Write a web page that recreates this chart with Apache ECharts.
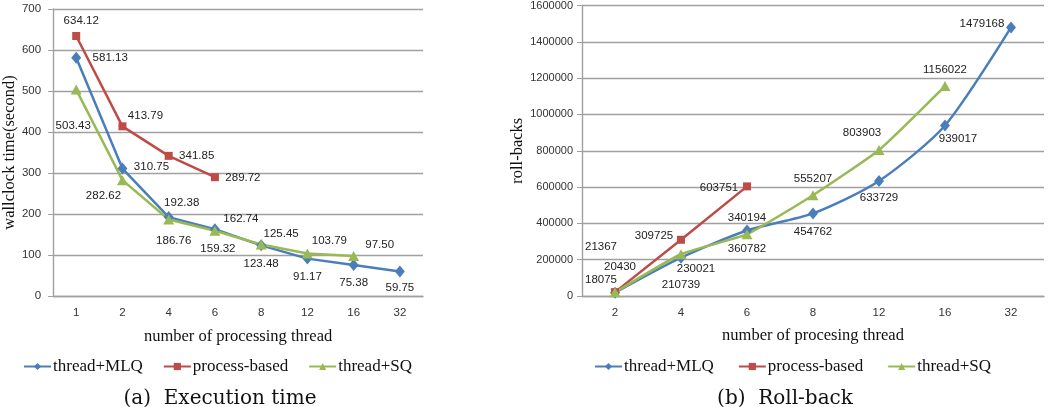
<!DOCTYPE html>
<html><head><meta charset="utf-8">
<script src="https://cdn.jsdelivr.net/npm/echarts@6/dist/echarts.min.js"></script>
<style>html,body{margin:0;padding:0;background:#fff}#c{width:1050px;height:407px}</style>
</head><body><div id="c"></div>
<script>
// ---- data: (a) execution time ----
const catsA = ['1','2','4','6','8','12','16','32'];
const mlqA = [581.13, 310.75, 192.38, 162.74, 123.48, 91.17, 75.38, 59.75];
const procA = [634.12, 413.79, 341.85, 289.72];
const sqA = [503.43, 282.62, 186.76, 159.32, 125.45, 103.79, 97.50];
// ---- data: (b) roll-back ----
const catsB = ['2','4','6','8','12','16','32'];
const mlqB = [18075, 210739, 360782, 454762, 633729, 939017, 1479168];
const procB = [21367, 309725, 603751];
const sqB = [20430, 230021, 340194, 555207, 803903, 1156022];
const ticksA = [0,100,200,300,400,500,600,700];
const ticksB = [0,200000,400000,600000,800000,1000000,1200000,1400000,1600000];

// ---- label placement offsets (style only) ----
const offMlqA = [[34,0],[29,-2],[13,-14],[26,-10],[0,18],[0,18],[0,18],[0,16]];
const offProcA = [[5,-15],[23,-11],[28,0],[28,1]];
const offSqA = [[-3,36],[-19,16],[5,21],[3,18],[20,-11],[22,-13],[26,-11]];
const offMlqB = [[-14,-13],[0,27],[0,18],[0,18],[0,17],[13,13],[-29,-4]];
const offProcB = [[-14,-45],[-27,-4],[-28,1]];
const offSqB = [[5,-25],[15,15],[0,-16],[0,-16],[-17,-17],[0,-16]];

const C_BLUE = '#4a7ebb', C_RED = '#be4b48', C_GREEN = '#98b954';
const SERIF = '"Liberation Serif","DejaVu Serif",serif';
const CAPSERIF = '"DejaVu Serif","Liberation Serif",serif';
const SANS = '"Liberation Sans","DejaVu Sans",sans-serif';

function pts(vals, offs){
  return vals.map((v,i)=>({value:v, label:{offset:offs[i]}}));
}
function mk(name, vals, offs, color, sym, size, xi, smooth){
  return {
    name, type:'line', xAxisIndex:xi, yAxisIndex:xi, data:pts(vals, offs),
    symbol:sym, symbolSize:size, smooth: smooth,
    lineStyle:{color, width:2.5}, itemStyle:{color},
    label:{show:true, position:'inside', color:'#222', fontFamily:SANS, fontSize:11.5,
      formatter: p => (xi===0 ? p.value.toFixed(2) : String(p.value))},
    emphasis:{disabled:true}, animation:false
  };
}
const gridLine = {show:true, lineStyle:{color:'#a0a0a0', width:1.4}};
const axisLine = {show:true, lineStyle:{color:'#a0a0a0', width:1.4}};

const option = {
  animation:false,
  grid:[
    {left:52, top:9, width:371, height:287},
    {left:582, top:5, width:462, height:291}
  ],
  xAxis:[
    {gridIndex:0, type:'category', data:catsA, boundaryGap:true,
      axisLine, axisTick:{show:false},
      axisLabel:{color:'#333', fontFamily:SANS, fontSize:11.5, margin:11},
      name:'number of processing thread', nameLocation:'middle', nameGap:32,
      nameTextStyle:{fontFamily:SERIF, fontSize:16.5, color:'#111'}},
    {gridIndex:1, type:'category', data:catsB, boundaryGap:true,
      axisLine, axisTick:{show:false},
      axisLabel:{color:'#333', fontFamily:SANS, fontSize:11.5, margin:11},
      name:'number of procesing thread', nameLocation:'middle', nameGap:31,
      nameTextStyle:{fontFamily:SERIF, fontSize:16.5, color:'#111'}}
  ],
  yAxis:[
    {gridIndex:0, type:'value', min:ticksA[0], max:ticksA[ticksA.length-1], interval:100,
      axisLine, axisTick:{show:true, length:5, lineStyle:{color:'#a0a0a0'}}, splitLine:gridLine,
      axisLabel:{color:'#333', fontFamily:SANS, fontSize:11.5, margin:12},
      name:'wallclock time(second)', nameLocation:'middle', nameGap:34, nameRotate:90,
      nameTextStyle:{fontFamily:SERIF, fontSize:16.5, color:'#111'}},
    {gridIndex:1, type:'value', min:ticksB[0], max:ticksB[ticksB.length-1], interval:200000,
      axisLine, axisTick:{show:true, length:5, lineStyle:{color:'#a0a0a0'}}, splitLine:gridLine,
      axisLabel:{color:'#333', fontFamily:SANS, fontSize:11, margin:9, formatter: v => String(v)},
      name:'roll-backs', nameLocation:'middle', nameGap:54, nameRotate:90,
      nameTextStyle:{fontFamily:SERIF, fontSize:16.5, color:'#111'}}
  ],
  legend:[
    {left:18, top:353, itemWidth:27, itemHeight:9, itemGap:20, selectedMode:false,
      data:['thread+MLQ','process-based','thread+SQ'],
      textStyle:{fontFamily:SERIF, fontSize:17, color:'#111', padding:[0,0,0,-3]}},
    {left:589, top:353, itemWidth:27, itemHeight:9, itemGap:24, selectedMode:false,
      data:['thread+MLQ','process-based','thread+SQ'],
      textStyle:{fontFamily:SERIF, fontSize:17, color:'#111', padding:[0,0,0,-3]}}
  ],
  title:[
    {text:'(a)  Execution time', left:215, top:384, textAlign:'center',
      textStyle:{fontFamily:CAPSERIF, fontSize:20, fontWeight:'normal', color:'#111'}},
    {text:'(b)  Roll-back', left:780, top:384, textAlign:'center',
      textStyle:{fontFamily:CAPSERIF, fontSize:20, fontWeight:'normal', color:'#111'}}
  ],
  series:[
    mk('thread+MLQ', mlqA, offMlqA, C_BLUE, 'diamond', [10,12], 0, false),
    mk('process-based', procA, offProcA, C_RED, 'rect', 8, 0, false),
    mk('thread+SQ', sqA, offSqA, C_GREEN, 'triangle', [11,10], 0, false),
    mk('thread+MLQ', mlqB, offMlqB, C_BLUE, 'diamond', [10,12], 1, 0.25),
    mk('process-based', procB, offProcB, C_RED, 'rect', 8, 1, false),
    mk('thread+SQ', sqB, offSqB, C_GREEN, 'triangle', [11,10], 1, 0.15)
  ]
};
echarts.init(document.getElementById('c'), null, {renderer:'canvas'}).setOption(option);
</script></body></html>
